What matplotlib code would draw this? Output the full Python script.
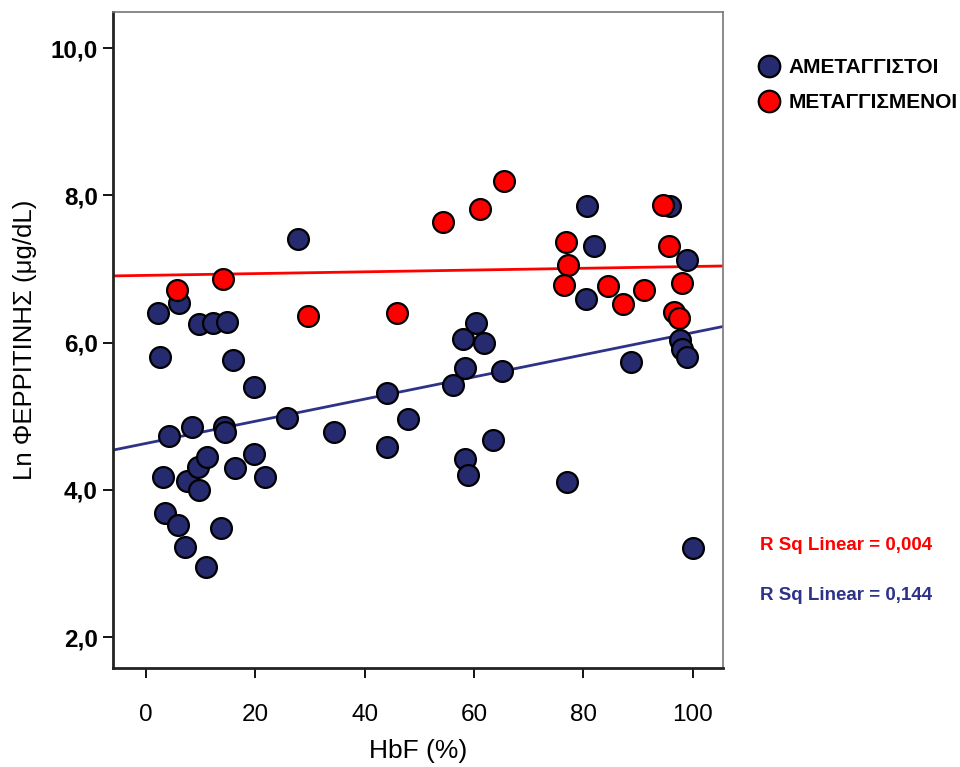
import numpy as np
import matplotlib
matplotlib.use("Agg")
import matplotlib.pyplot as plt
from matplotlib.lines import Line2D

# HbF (%) and Ln ferritin for non-transfused patients
hbf_non = [2.25, 2.56, 3.16, 3.47, 4.26, 6.09, 5.90, 7.13, 7.44, 8.35,
           9.56, 9.74, 9.74, 10.91, 11.10, 12.30, 13.71, 14.26, 14.44, 14.75,
           15.96, 16.27, 19.74, 19.74, 21.76, 25.83, 27.84, 34.37, 44.11, 44.11,
           47.95, 56.07, 58.01, 58.26, 58.37, 58.92, 60.33, 61.79, 63.38, 65.08,
           76.91, 80.57, 80.44, 81.90, 88.61, 95.80, 98.85, 97.62, 97.93, 98.85,
           100.0]
lnfer_non = [6.40, 5.81, 4.18, 3.69, 4.73, 6.54, 3.52, 3.23, 4.12, 4.86,
             4.31, 4.00, 6.25, 2.95, 4.45, 6.27, 3.48, 4.86, 4.79, 6.28,
             5.76, 4.29, 5.40, 4.48, 4.17, 4.97, 7.41, 4.79, 5.31, 4.58,
             4.96, 5.42, 6.05, 4.42, 5.65, 4.20, 6.26, 6.00, 4.67, 5.62,
             4.10, 7.85, 6.59, 7.31, 5.73, 7.85, 7.12, 6.03, 5.91, 5.81,
             3.21]

# HbF (%) and Ln ferritin for transfused patients
hbf_tr = [5.61, 14.13, 29.56, 45.83, 54.35, 61.06, 65.45, 76.78, 77.09, 76.42,
          84.52, 87.26, 91.04, 94.57, 95.67, 97.93, 96.53, 97.50]
lnfer_tr = [6.71, 6.87, 6.36, 6.40, 7.64, 7.82, 8.20, 7.37, 7.05, 6.78,
            6.77, 6.52, 6.71, 7.87, 7.31, 6.81, 6.42, 6.33]

group_labels = ["ΑΜΕΤΑΓΓΙΣΤΟΙ", "ΜΕΤΑΓΓΙΣΜΕΝΟΙ"]
r2_labels = ["R Sq Linear = 0,004", "R Sq Linear = 0,144"]
x_ticks = [0, 20, 40, 60, 80, 100]
y_ticks = [2.0, 4.0, 6.0, 8.0, 10.0]

NAVY = "#262a6e"
NAVY_LINE = "#2e3288"
RED = "#ff0000"

plt.rcParams["font.family"] = ["Liberation Sans", "DejaVu Sans"]

fig = plt.figure(figsize=(9.6, 7.67), dpi=100)
ax = fig.add_axes([113 / 960, 1 - 668 / 767, (723 - 113) / 960, (668 - 12) / 767])

xlim = (-6.0, 105.5)
ylim = (1.58, 10.49)
ax.set_xlim(*xlim)
ax.set_ylim(*ylim)

# least-squares fit lines across the full x range
xs = np.array(xlim)
for xv, yv, col in [(hbf_tr, lnfer_tr, RED), (hbf_non, lnfer_non, NAVY_LINE)]:
    slope, icpt = np.polyfit(xv, yv, 1)
    ax.plot(xs, icpt + slope * xs, color=col, lw=2, zorder=2)

msize = 225
ax.scatter(hbf_non, lnfer_non, s=msize, c=NAVY, edgecolors="black",
           linewidths=1.6, zorder=3)
ax.scatter(hbf_tr, lnfer_tr, s=msize, c=RED, edgecolors="black",
           linewidths=1.6, zorder=4)

ax.set_xticks(x_ticks)
ax.set_xticklabels([str(t) for t in x_ticks], fontsize=17.5)
ax.set_yticks(y_ticks)
ax.set_yticklabels([f"{t:.1f}".replace(".", ",") for t in y_ticks],
                   fontsize=17.5, fontweight="bold")
ax.tick_params(axis="both", direction="out", length=7, width=1.3, colors="black")
ax.tick_params(axis="x", pad=19)
ax.tick_params(axis="y", pad=4)

for side in ["left", "bottom"]:
    ax.spines[side].set_linewidth(2.0)
    ax.spines[side].set_color("#222222")
for side in ["top", "right"]:
    ax.spines[side].set_linewidth(1.2)
    ax.spines[side].set_color("#777777")

ax.set_xlabel("HbF (%)", fontsize=19, labelpad=9)
ax.set_ylabel("Ln ΦΕΡΡΙΤΙΝΗΣ (μg/dL)", fontsize=18.5, labelpad=10)

handles = [
    Line2D([], [], ls="none", marker="o", markersize=15.5, markerfacecolor=NAVY,
           markeredgecolor="black", markeredgewidth=1.6),
    Line2D([], [], ls="none", marker="o", markersize=15.5, markerfacecolor=RED,
           markeredgecolor="black", markeredgewidth=1.6),
]
fig.legend(handles, group_labels, loc="upper left",
           bbox_to_anchor=(748 / 960, 1 - 50 / 767), frameon=False,
           prop={"size": 15, "weight": "bold"}, handletextpad=0.35,
           labelspacing=0.75, handlelength=1.2, borderaxespad=0)

fig.text(932 / 960, 1 - 545 / 767, r2_labels[0], color=RED, fontsize=13.5,
         fontweight="bold", ha="right", va="center")
fig.text(932 / 960, 1 - 595 / 767, r2_labels[1], color=NAVY_LINE, fontsize=13.5,
         fontweight="bold", ha="right", va="center")

fig.savefig("out.png", dpi=100)
